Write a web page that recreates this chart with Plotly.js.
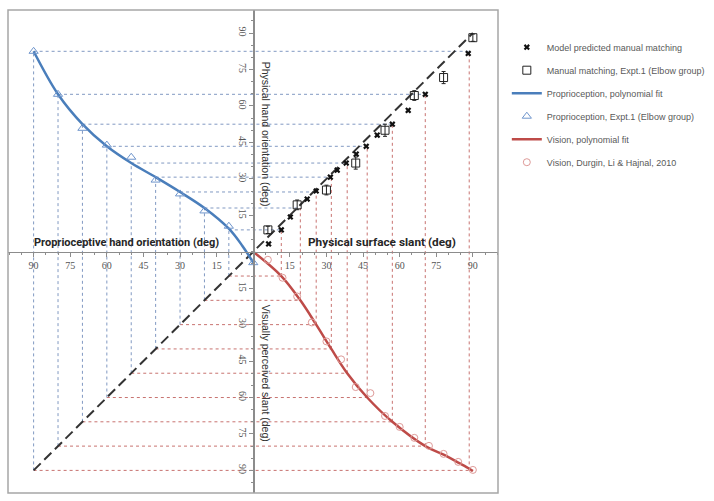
<!DOCTYPE html>
<html>
<head>
<meta charset="utf-8">
<script src="https://cdn.plot.ly/plotly-3.0.1.min.js"></script>
<style>
  html, body { margin: 0; padding: 0; background: #fff; }
  #chart { width: 714px; height: 501px; }
</style>
</head>
<body>
<div id="chart"></div>
<script>
// grid of perceived slants used for the construction lines
const gridV = [10, 20, 30, 40, 50, 60, 70, 80, 90];
const slantAtGrid = [11.5, 19.3, 25.8, 32, 38.5, 46.7, 57, 70.5, 88.5];
const handAtGrid = [9, 18, 24.6, 30.7, 36.5, 43.4, 52.5, 64.8, 82.5];

// vision data + fit (lower right)
const visX = [6, 12, 18, 24, 30, 36, 42, 48, 54, 60, 66, 72, 78, 84, 90];
const visY = [-3.3, -10.7, -18.4, -29.1, -36.9, -44.3, -55.7, -58.2, -67.6, -72.1, -76.6, -79.9, -83.2, -86.5, -89.8];
const visFitX = [0, 11.5, 19.3, 25.8, 32, 38.5, 46.7, 57, 70.5, 78, 84, 88.5, 90];
const visFitY = [0, -10, -20, -30, -40, -50, -60, -70, -80, -83.5, -86.8, -89.3, -90.3];

// proprioception data + fit (upper left)
const propX = [-90, -80, -70, -60, -50, -40, -30, -20, -10, 0];
const propY = [82.5, 64.8, 50.8, 43.9, 38.9, 29.5, 23.8, 16.8, 10.5, -4.5];
const propFitX = [-90, -80, -70, -60, -50, -40, -30, -20, -10, -4.5, 0];
const propFitY = [82.5, 64.8, 52.5, 43.4, 36.5, 30.7, 24.6, 18, 9.5, 2.5, -4.5];

// manual matching (upper right)
const manualX = [6, 18, 30, 42, 54, 66, 78, 90];
const manualY = [9, 19.3, 25.4, 36.5, 50, 64.3, 71.7, 88.1];
const manualErr = [1.5, 2, 2, 2.5, 2.5, 2, 2.5, 1.5];

// model prediction
const predX = [6.3, 11.5, 15.2, 22.1, 25.8, 31.6, 34.4, 38.1, 42.2, 46.3, 50.8, 57, 63.5, 70.5, 88.1];
const predY = [3.2, 9.0, 14.3, 21.7, 25, 30.7, 33.6, 36.5, 40.2, 43.4, 48, 52.5, 58.2, 64.8, 81.6];

const diagX = [-90, 90];
const diagY = [-90, 90];

const tickVals = [-90, -75, -60, -45, -30, -15, 15, 30, 45, 60, 75, 90];
const tickText = tickVals.map(v => String(Math.abs(v)));

const xRange = [-100.5, 100.3];
const yRange = [-99.3, 99.5];
const xZeroPos = -xRange[0] / (xRange[1] - xRange[0]);
const yZeroPos = -yRange[0] / (yRange[1] - yRange[0]);

const blue = '#4A7EBB';
const red = '#BE4B48';

// construction lines
var redLX = [], redLY = [], blueLX = [], blueLY = [];
for (var i = 0; i < gridV.length; i++) {
   var v = gridV[i], s = slantAtGrid[i], h = handAtGrid[i];
   redLX.push(-v, s, null, s, s, null);
   redLY.push(-v, -v, null, -v, h, null);
   blueLX.push(-v, -v, null, -v, s, null);
   blueLY.push(-v, h, null, h, h, null);
}

var traces = [
   { x: redLX, y: redLY, mode: 'lines', line: { color: '#C87370', width: 1, dash: '3px,3px' }, showlegend: false, hoverinfo: 'skip' },
   { x: blueLX, y: blueLY, mode: 'lines', line: { color: '#8199C2', width: 1, dash: '3px,3px' }, showlegend: false, hoverinfo: 'skip' },
   { x: diagX, y: diagY, mode: 'lines', line: { color: '#333', width: 2, dash: '10px,5px' }, showlegend: false },
   {
      x: propFitX, y: propFitY, mode: 'lines', name: 'Proprioception, polynomial fit',
      line: { color: blue, width: 2.5, shape: 'spline' }, legendrank: 3, legendgroup: 'c'
   },
   {
      x: visFitX, y: visFitY, mode: 'lines', name: 'Vision, polynomial fit',
      line: { color: red, width: 2.5, shape: 'spline' }, legendrank: 5, legendgroup: 'e'
   },
   {
      x: propX, y: propY, mode: 'markers', name: 'Proprioception, Expt.1 (Elbow group)',
      marker: { symbol: 'triangle-up-open', size: 8, color: '#6F95CC', line: { width: 1 } }, legendrank: 4, legendgroup: 'd'
   },
   {
      x: visX, y: visY, mode: 'markers', name: 'Vision, Durgin, Li & Hajnal, 2010',
      marker: { symbol: 'circle-open', size: 7, color: '#DE9A98', line: { width: 1 } }, legendrank: 6, legendgroup: 'f'
   },
   {
      x: manualX, y: manualY, mode: 'markers', name: 'Manual matching, Expt.1 (Elbow group)',
      marker: { symbol: 'square-open', size: 8, color: '#222', line: { width: 1 } },
      error_y: { type: 'data', array: manualErr, color: '#222', thickness: 1, width: 2 },
      legendrank: 2, legendgroup: 'b'
   },
   {
      x: predX, y: predY, mode: 'markers', name: 'Model predicted manual matching',
      marker: { symbol: 'x', size: 5.5, color: '#111' }, legendrank: 1, legendgroup: 'a'
   }
];

var axisBase = {
   showgrid: false, zeroline: false, showline: true, linecolor: '#8c8c8c', linewidth: 1.5,
   tickmode: 'array', tickvals: tickVals, ticktext: tickText,
   ticklen: 4, tickcolor: '#8c8c8c', tickwidth: 1,
   tickfont: { family: 'Liberation Serif', size: 10, color: '#555' },
   anchor: 'free', fixedrange: true
};

var layout = {
   width: 714,
   height: 501,
   margin: { l: 8, r: 216, t: 10, b: 8, autoexpand: false },
   paper_bgcolor: '#fff',
   plot_bgcolor: '#fff',
   xaxis: Object.assign({}, axisBase, {
      range: xRange, position: yZeroPos, ticks: 'outside',
      minor: { tickmode: 'linear', tick0: 0, dtick: 5, ticks: 'outside', ticklen: 2, tickcolor: '#8c8c8c' }
   }),
   xaxis2: Object.assign({}, axisBase, {
      range: xRange, position: yZeroPos, overlaying: 'x', ticks: 'inside', showticklabels: false,
      minor: { tickmode: 'linear', tick0: 0, dtick: 5, ticks: 'inside', ticklen: 2, tickcolor: '#8c8c8c' }
   }),
   yaxis: Object.assign({}, axisBase, {
      range: yRange, position: xZeroPos, ticks: 'outside', tickangle: 90, ticklabelstandoff: -2,
      minor: { tickmode: 'linear', tick0: 0, dtick: 5, ticks: 'outside', ticklen: 2, tickcolor: '#8c8c8c' }
   }),
   yaxis2: Object.assign({}, axisBase, {
      range: yRange, position: xZeroPos, overlaying: 'y', ticks: 'inside', showticklabels: false,
      minor: { tickmode: 'linear', tick0: 0, dtick: 5, ticks: 'inside', ticklen: 2, tickcolor: '#8c8c8c' }
   }),
   showlegend: true,
   legend: {
      x: 1.018, y: 0.953, xanchor: 'left', yanchor: 'top',
      traceorder: 'grouped', tracegroupgap: 4, itemwidth: 30,
      font: { family: 'Liberation Sans', size: 9, color: '#595959' },
      bgcolor: 'rgba(0,0,0,0)'
   },
   shapes: [
      { type: 'rect', xref: 'paper', yref: 'paper', x0: 0, x1: 1, y0: 0, y1: 1, line: { color: '#a6a6a6', width: 1.5 } }
   ],
   annotations: [
      { text: '<b>Proprioceptive hand orientation (deg)</b>', x: -52, y: 0.5, xref: 'x', yref: 'y', yanchor: 'bottom', showarrow: false,
        font: { family: 'Liberation Sans Narrow, Roboto', size: 11, color: '#262626' } },
      { text: '<b>Physical surface slant (deg)</b>', x: 52.7, y: 0.5, xref: 'x', yref: 'y', yanchor: 'bottom', showarrow: false,
        font: { family: 'Liberation Sans Narrow, Roboto', size: 11.8, color: '#262626' } },
      { text: 'Physical hand orientation (deg)', x: 5, y: 48.4, xref: 'x', yref: 'y', textangle: 90, showarrow: false,
        font: { family: 'Liberation Sans', size: 10.5, color: '#333' } },
      { text: 'Visually perceived slant (deg)', x: 5, y: -50, xref: 'x', yref: 'y', textangle: 90, showarrow: false,
        font: { family: 'Liberation Sans', size: 10.5, color: '#333' } }
   ]
};

Plotly.newPlot('chart', traces, layout, { displayModeBar: false, staticPlot: true });
</script>
</body>
</html>
